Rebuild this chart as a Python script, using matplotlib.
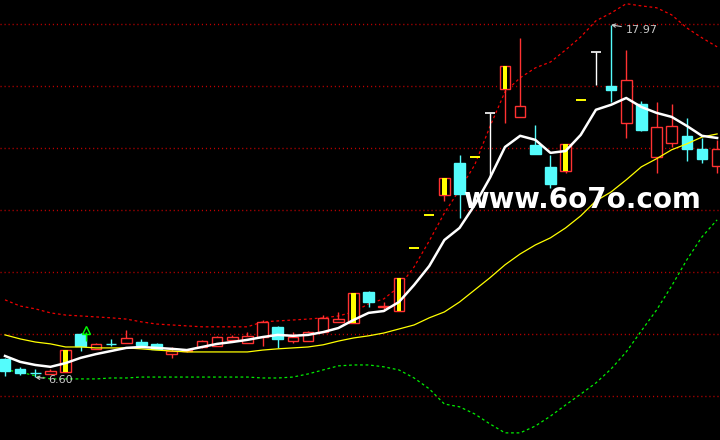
import numpy as np
import matplotlib
matplotlib.use("Agg")
import matplotlib.pyplot as plt

# daily candles, price units
opens = [7.19, 6.87, 6.75, 6.71, 6.77, 8.00, 7.52, 7.69, 7.71, 7.74,
         7.68, 7.35, 7.46, 7.58, 7.61, 7.81, 7.71, 7.90, 8.23, 7.77,
         7.77, 8.06, 8.39, 8.35, 9.35, 8.88, 8.74, 10.77, 11.85, 12.48,
         13.52, 13.71, 15.13, 15.90, 15.00, 14.10, 13.39, 13.26, 15.54, 17.09,
         16.00, 14.81, 15.42, 13.71, 14.16, 14.39, 13.97, 13.42]
highs = [7.22, 6.94, 6.87, 6.87, 7.48, 8.02, 7.72, 7.84, 8.13, 7.84,
         7.71, 7.58, 7.52, 7.80, 7.92, 7.97, 8.06, 8.45, 8.26, 8.06,
         8.08, 8.61, 8.71, 9.32, 9.39, 9.03, 9.79, 10.77, 11.85, 13.04,
         13.77, 13.71, 15.13, 16.64, 17.55, 14.74, 13.77, 14.12, 15.54, 17.09,
         17.97, 17.16, 15.52, 15.48, 15.42, 14.97, 14.32, 14.26]
lows = [6.65, 6.68, 6.60, 6.70, 6.77, 7.45, 7.50, 7.61, 7.70, 7.63,
        7.50, 7.23, 7.42, 7.56, 7.60, 7.80, 7.70, 7.61, 7.55, 7.71,
        7.76, 8.05, 8.37, 8.35, 8.87, 8.74, 8.74, 10.77, 11.85, 12.29,
        11.74, 13.71, 13.06, 14.81, 15.00, 13.80, 12.71, 13.19, 15.54, 16.03,
        15.48, 14.32, 14.56, 13.19, 14.03, 13.58, 13.52, 13.19]
closes = [6.81, 6.74, 6.73, 6.81, 7.48, 7.61, 7.68, 7.67, 7.87, 7.65,
          7.52, 7.45, 7.48, 7.77, 7.90, 7.90, 7.94, 8.39, 7.84, 7.90,
          8.06, 8.52, 8.48, 9.32, 9.03, 8.90, 9.79, 10.77, 11.85, 13.04,
          12.52, 13.71, 15.13, 16.64, 15.35, 13.81, 12.84, 14.12, 15.54, 17.09,
          15.87, 16.19, 14.58, 14.68, 14.71, 13.97, 13.65, 13.97]

ma_fast = [7.29, 7.10, 7.00, 6.94, 7.06, 7.23, 7.35, 7.45, 7.55, 7.58,
           7.55, 7.52, 7.48, 7.58, 7.68, 7.74, 7.81, 7.90, 7.97, 7.94,
           7.97, 8.06, 8.19, 8.45, 8.68, 8.74, 9.03, 9.58, 10.19, 11.03,
           11.42, 12.16, 13.03, 14.03, 14.39, 14.26, 13.84, 13.90, 14.42, 15.23,
           15.39, 15.61, 15.32, 15.13, 15.00, 14.71, 14.39, 14.32]
ma_slow = [7.97, 7.84, 7.74, 7.68, 7.58, 7.58, 7.55, 7.55, 7.55, 7.52,
           7.48, 7.45, 7.42, 7.42, 7.42, 7.42, 7.42, 7.48, 7.52, 7.55,
           7.58, 7.65, 7.77, 7.87, 7.94, 8.03, 8.16, 8.29, 8.52, 8.71,
           9.03, 9.42, 9.81, 10.23, 10.58, 10.87, 11.10, 11.42, 11.81, 12.29,
           12.58, 12.97, 13.39, 13.65, 13.94, 14.13, 14.35, 14.45]
band_upper = [9.10, 8.90, 8.81, 8.68, 8.61, 8.58, 8.55, 8.52, 8.48, 8.39,
              8.32, 8.29, 8.26, 8.23, 8.23, 8.23, 8.23, 8.39, 8.42, 8.45,
              8.48, 8.52, 8.58, 8.71, 8.97, 9.13, 9.52, 10.16, 11.00, 11.90,
              12.65, 13.45, 14.68, 15.81, 16.26, 16.58, 16.77, 17.16, 17.58, 18.10,
              18.35, 18.65, 18.58, 18.52, 18.29, 17.87, 17.55, 17.26]
band_lower = [6.84, 6.77, 6.65, 6.55, 6.55, 6.55, 6.55, 6.58, 6.58, 6.61,
              6.61, 6.61, 6.61, 6.61, 6.61, 6.61, 6.61, 6.58, 6.58, 6.61,
              6.71, 6.84, 6.97, 7.00, 7.00, 6.94, 6.84, 6.58, 6.23, 5.74,
              5.65, 5.42, 5.10, 4.81, 4.81, 5.03, 5.35, 5.71, 6.06, 6.42,
              6.87, 7.42, 8.10, 8.77, 9.55, 10.39, 11.13, 11.68]

grid_levels = [6, 8, 10, 12, 14, 16, 18]
watermark = "www.6o7o.com"

RED = "#ff3232"
CYAN = "#54fcfc"
YELLOW = "#ffff00"
BODY_W = 0.70

fig = plt.figure(figsize=(7.2, 4.4), dpi=100, facecolor="black")
ax = fig.add_axes([0, 0, 1, 1])
ax.set_facecolor("black")
ax.axis("off")

x = np.arange(len(closes))

for lv in grid_levels:
    ax.axhline(lv, color="#c00000", lw=1, ls=(0, (0.8, 2.1)), zorder=1)

ax.plot(x, band_upper, color="#ee0000", lw=0.9, ls=(0, (2.2, 2.2)), zorder=2)
ax.plot(x, band_lower, color="#00ee00", lw=0.9, ls=(0, (2.2, 2.2)), zorder=2)

for i in x:
    o, h, l, c = opens[i], highs[i], lows[i], closes[i]
    prev = closes[i - 1] if i > 0 else o
    if o == h == l == c:
        # one-price limit day
        ax.hlines(c, i - 0.33, i + 0.33, color=YELLOW, lw=1.4, zorder=4)
        continue
    if o == c == h:
        ax.vlines(i, l, h, color="white", lw=1, zorder=3)
        ax.hlines(h, i - 0.33, i + 0.33, color="white", lw=1.2, zorder=3)
        continue
    if c >= o:
        ax.vlines(i, l, h, color=RED, lw=1, zorder=2.5)
        ax.bar(i, max(c - o, 0.01), bottom=o, width=BODY_W, facecolor="black",
               edgecolor=RED, lw=1, zorder=3)
        if c == h and c >= prev * 1.09:
            ax.bar(i, c - o, bottom=o, width=0.32, color=YELLOW, lw=0, zorder=3.5)
    else:
        ax.vlines(i, l, h, color=CYAN, lw=1, zorder=2.5)
        ax.bar(i, o - c, bottom=c, width=BODY_W, facecolor=CYAN,
               edgecolor=CYAN, lw=1, zorder=3)

ax.plot(x, ma_slow, color=YELLOW, lw=0.9, zorder=5)
ax.plot(x, ma_fast, color="white", lw=1.8, zorder=6)

# little green signal above the 6th candle
ax.plot(5.35, 8.12, marker="^", ms=6, mfc="none", mec="#00ff00", mew=1, zorder=7)
ax.vlines(5.35, 7.78, 8.05, color="#00ff00", lw=1, zorder=7)

ihi = int(np.argmax(highs))
ilo = int(np.argmin(lows))
ax.annotate(f"{highs[ihi]:.2f}", xy=(ihi, highs[ihi]), xytext=(ihi + 0.95, highs[ihi] - 0.17),
            color="#c8c8c8", fontsize=8, va="center", ha="left", zorder=8,
            arrowprops=dict(arrowstyle="->", color="#c8c8c8", lw=0.8,
                            mutation_scale=6, shrinkA=1, shrinkB=0))
ax.annotate(f"{lows[ilo]:.2f}", xy=(ilo, lows[ilo]), xytext=(ilo + 0.85, lows[ilo] - 0.07),
            color="#c8c8c8", fontsize=8, va="center", ha="left", zorder=8,
            arrowprops=dict(arrowstyle="->", color="#c8c8c8", lw=0.8,
                            mutation_scale=6, shrinkA=1, shrinkB=0))

ax.text(30.2, 12.06, watermark, color="white", fontsize=20, fontweight="bold",
        ha="left", va="baseline", zorder=10)

ax.set_xlim(-0.33, 47.19)
ax.set_ylim(4.58, 18.77)

fig.savefig("out.png", dpi=100, facecolor="black")
